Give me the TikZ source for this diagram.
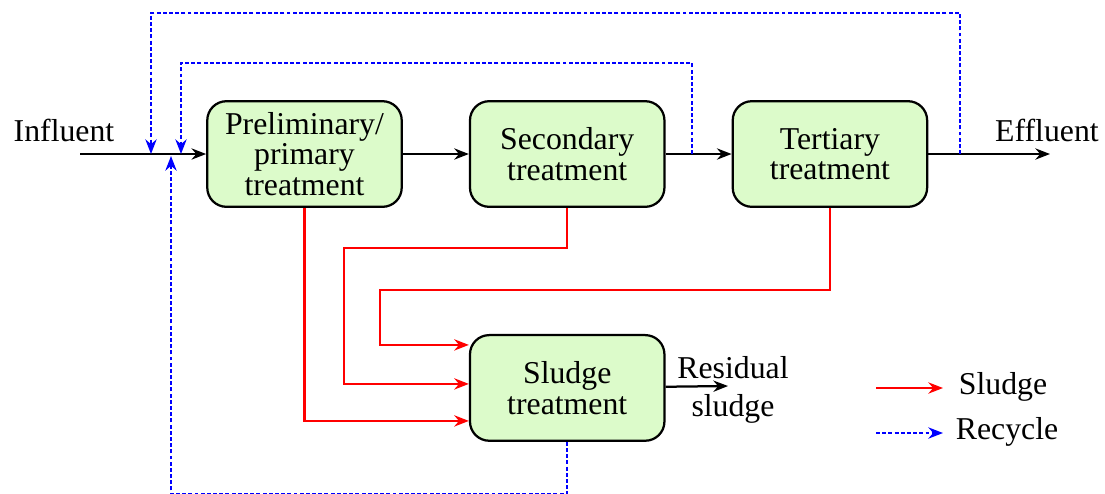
\documentclass[tikz,border=0pt]{standalone}
\usepackage{fontspec}
\setmainfont{Liberation Serif}
\usepackage{tikz}
\usetikzlibrary{positioning}
\usetikzlibrary{calc,arrows.meta}
\definecolor{wt-text}{HTML}{000000}
\definecolor{wt-fill}{HTML}{DCFBCA}
\definecolor{wt-sludge}{HTML}{FF0000}
\definecolor{wt-recycle}{HTML}{0000FF}

\begin{document}
\begin{tikzpicture}[
    x=0.0125cm, y=-0.0125cm, % one unit = one pixel of the layout
    node distance=0.825cm,
    font=\fontsize{11.3}{10.9}\selectfont,
    >={Stealth[length=5.2pt, width=4pt, inset=1.7pt]}
  ]

  % Global Style Definitions
  \tikzset{
    stage/.style={draw, thick, fill=wt-fill, rounded corners=0.24cm, minimum width=2.43cm, minimum height=1.32cm, text=wt-text, align=center},
    flow/.style={->, thick, wt-text},
    sludgeflow/.style={->, thick, wt-sludge},
    recycle/.style={->, thick, wt-recycle, dash pattern=on 1.4pt off 0.8pt}
  }

  \useasboundingbox (0,0) rectangle (1105,493);

  % Treatment train
  \node (prelim) [stage] at (304.5,154) {Preliminary/\\primary\\treatment};
  \node (sec)    [stage, right=of prelim] {Secondary\\treatment};
  \node (tert)   [stage, right=of sec] {Tertiary\\treatment};
  \node (sludge) [stage, below=1.575cm of sec] {Sludge\\treatment};

  % Inlet, outlet and junctions
  \node (influent) at (64,130) {Influent};
  \node (effluent) at (1047,130) {Effluent};
  \node (residual) [align=center] at (733,390) {Residual\\[2.5pt]sludge};
  \coordinate (in)  at (80,154);
  \coordinate (out) at (1050,154);
  \coordinate (resout) at (728,386);
  \coordinate (m1) at (151,154);
  \coordinate (m2) at (181,154);
  \coordinate (m3) at (171,156);
  \coordinate (r1) at (960,154);
  \coordinate (r2) at (692,154);

  % Main flow
  \draw[flow] (in) -- (prelim);
  \draw[flow] (prelim) -- (sec);
  \draw[flow] (sec) -- (tert);
  \draw[flow] (tert) -- (out);
  \draw[flow] (sludge) -- (resout);

  % Sludge lines
  \draw[sludgeflow] (prelim.south) |- ($(sludge.west)+(0,33)$);
  \draw[sludgeflow] (sec.south) -- ++(0,40) -| ($(sludge.west)+(-125,-4)$) -- ($(sludge.west)+(0,-4)$);
  \draw[sludgeflow] (tert.south) -- ++(0,82) -| ($(sludge.west)+(-89,-43)$) -- ($(sludge.west)+(0,-43)$);

  % Recycle lines
  \draw[recycle] (r1) -- ++(0,-141) -| (m1);
  \draw[recycle] (r2) -- ++(0,-91) -| (m2);
  \draw[recycle] (sludge.south) -- ++(0,52) -| (m3);

  % Legend
  \node (legsludge)  at (1003,387) {Sludge};
  \node (legrecycle) at (1007,432) {Recycle};
  \coordinate (ls0) at (876,388);
  \coordinate (ls1) at (943,388);
  \coordinate (lr0) at (876,433);
  \coordinate (lr1) at (943,433);
  \draw[sludgeflow] (ls0) -- (ls1);
  \draw[recycle] (lr0) -- (lr1);

\end{tikzpicture}
\end{document}
